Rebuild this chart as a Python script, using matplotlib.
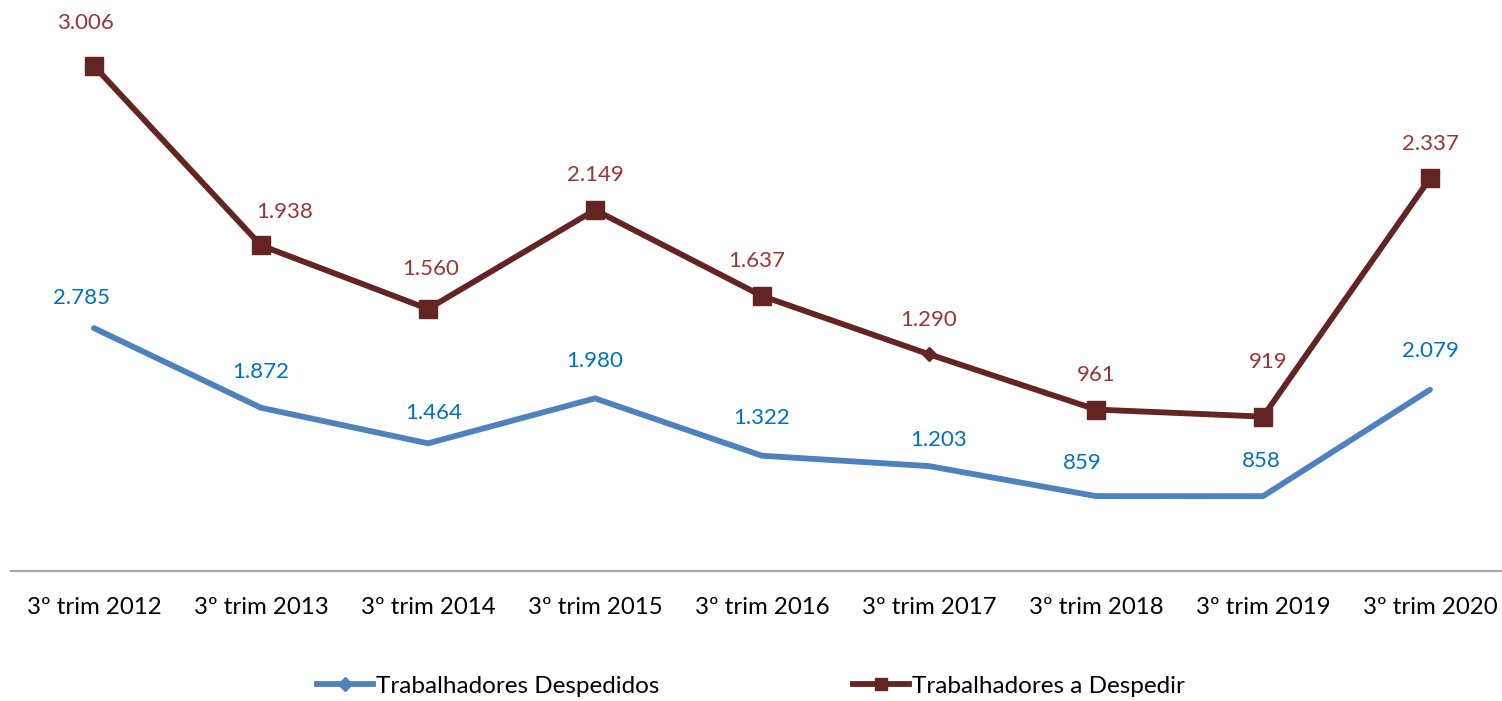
import matplotlib
matplotlib.use("Agg")
import matplotlib.pyplot as plt
from matplotlib.lines import Line2D

categories = ["3º trim 2012", "3º trim 2013", "3º trim 2014", "3º trim 2015", "3º trim 2016",
              "3º trim 2017", "3º trim 2018", "3º trim 2019", "3º trim 2020"]
despedidos = [2785, 1872, 1464, 1980, 1322, 1203, 859, 858, 2079]
a_despedir = [3006, 1938, 1560, 2149, 1637, 1290, 961, 919, 2337]
labels_despedidos = ["2.785", "1.872", "1.464", "1.980", "1.322", "1.203", "859", "858", "2.079"]
labels_a_despedir = ["3.006", "1.938", "1.560", "2.149", "1.637", "1.290", "961", "919", "2.337"]
series_names = ["Trabalhadores Despedidos", "Trabalhadores a Despedir"]

plt.rcParams['font.family'] = ['Lato', 'DejaVu Sans']

W, H = 1502, 701
fig = plt.figure(figsize=(W / 100, H / 100), dpi=100)
left_px, right_px, bottom_px, top_px = 10.5, 1502, 571, 10
ax = fig.add_axes([left_px / W, 1 - bottom_px / H, (right_px - left_px) / W, (bottom_px - top_px) / H])
ax2 = ax.twinx()

x = list(range(len(categories)))
xmax = 8.5 - (1513.5 - 1502) / 167
ax.set_xlim(-0.5, xmax)
plot_h = bottom_px - top_px
ax.set_ylim(0, plot_h / 0.168)
ax2.set_ylim(0, plot_h / 0.0872)

red_line = "#632523"
red_text = "#953735"
blue_line = "#4F81BD"
blue_text = "#0070C0"

ax2.plot(x, despedidos, color=blue_line, lw=4.2, solid_capstyle="round", solid_joinstyle="miter", zorder=2)
ax.plot(x, a_despedir, color=red_line, lw=4.2, solid_joinstyle="miter", zorder=3)
markers = ["s"] * len(x)
markers[5] = "D"
for xi, yi, m in zip(x, a_despedir, markers):
    ax.plot([xi], [yi], marker=m, color=red_line, markersize=13.5 if m == "s" else 7, ls="none", zorder=4)

ax.set_zorder(ax2.get_zorder() + 1)
ax.patch.set_visible(False)

red_off = [(-6, 31), (17, 24), (2, 29), (0, 25), (-4, 25), (0, 25), (0, 25), (4, 39), (0, 25)]
blue_off = [(-9, 22), (0, 26), (4, 22), (0, 27), (0, 27), (7, 19), (-10, 24), (-1, 25), (0, 28)]
for xi, yi, lab, off in zip(x, a_despedir, labels_a_despedir, red_off):
    ax.annotate(lab, (xi, yi), xytext=off, textcoords="offset points", ha="center", va="center",
                color=red_text, fontsize=16)
for xi, yi, lab, off in zip(x, despedidos, labels_despedidos, blue_off):
    ax2.annotate(lab, (xi, yi), xytext=off, textcoords="offset points", ha="center", va="center",
                 color=blue_text, fontsize=16)

for a in (ax, ax2):
    for s in ("top", "right", "left"):
        a.spines[s].set_visible(False)
    a.set_yticks([])
ax2.spines["bottom"].set_visible(False)
ax.spines["bottom"].set_color("#A6A6A6")
ax.spines["bottom"].set_linewidth(1.5)
ax.set_xticks(x)
ax.set_xticklabels(categories, fontsize=17.3)
ax.tick_params(axis="x", length=0, pad=19)

handles = [Line2D([], [], color=blue_line, lw=4.2, marker="D", markersize=7),
           Line2D([], [], color=red_line, lw=4.2, marker="s", markersize=9)]
fig.legend(handles, series_names, loc="center", bbox_to_anchor=(0.5, 1 - 686 / H), ncol=2,
           frameon=False, fontsize=17.5, handlelength=2.3, handletextpad=0.1, columnspacing=8.0)

fig.savefig("out.png", dpi=100)
